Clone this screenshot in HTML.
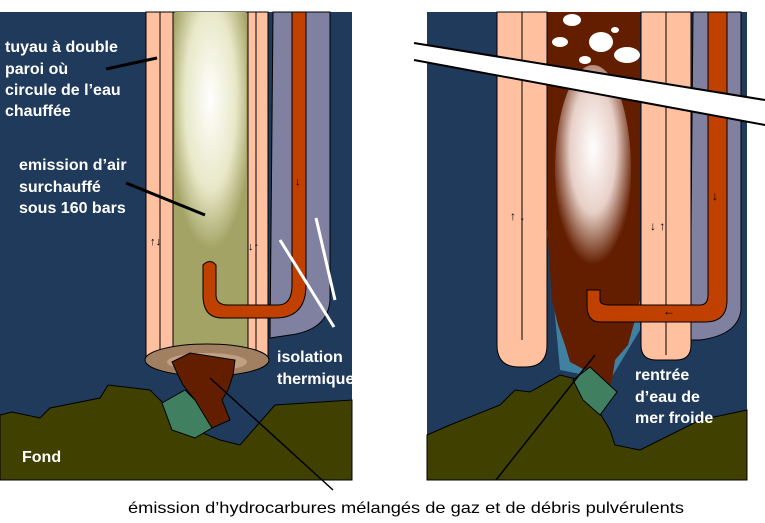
<!DOCTYPE html>
<html><head><meta charset="utf-8"><style>
html,body{margin:0;padding:0;background:#fff;width:765px;height:523px;overflow:hidden}
svg{display:block}
text{font-family:"Liberation Sans",Arial,sans-serif;font-weight:bold;fill:#fff;font-size:16px}
</style></head><body>
<svg width="765" height="523" viewBox="0 0 765 523" xmlns="http://www.w3.org/2000/svg">
<defs>
<radialGradient id="g1" cx="0.5" cy="0.35" r="0.6"><stop offset="0" stop-color="#fff"/><stop offset="0.6" stop-color="#e8e8c8"/><stop offset="1" stop-color="#a3a365"/></radialGradient>
<radialGradient id="g2" cx="0.5" cy="0.4" r="0.55"><stop offset="0" stop-color="#fff"/><stop offset="0.55" stop-color="#e8d0c8"/><stop offset="1" stop-color="#631e00"/></radialGradient>
</defs>
<!-- LEFT PANEL -->
<rect x="0" y="12" width="352" height="468" fill="#1f3a5b"/>
<path d="M273 12 H330 V300 Q328 330 290 335 L270 338 Z" fill="#8080a0" stroke="#000"/>
<rect x="146" y="12" width="122" height="350" fill="#ffc0a0" stroke="#000"/>
<line x1="160" y1="12" x2="160" y2="360" stroke="#000"/>
<line x1="256" y1="12" x2="256" y2="360" stroke="#000"/>
<rect x="173" y="12" width="75" height="345" fill="#a3a365" stroke="#000"/>
<rect x="175" y="12" width="71" height="250" fill="url(#g1)"/>
<path d="M292 12 H306 V285 Q306 318 275 318 H222 Q203 318 203 295 V265 Q210 258 216 265 V295 Q216 305 228 305 H278 Q292 305 292 285 Z" fill="#c04000" stroke="#000"/>
<ellipse cx="207" cy="360" rx="62" ry="16" fill="#a08060" stroke="#000"/>
<ellipse cx="207" cy="362" rx="40" ry="9" fill="#c0a080"/>
<path d="M0 415 L12 412 L40 418 L50 408 L100 398 L108 385 L150 390 L165 405 L185 420 L200 432 L220 440 L240 445 L275 405 L352 400 V480 H0 Z" fill="#404000" stroke="#000"/>
<path d="M162 403 L185 390 L205 410 L212 428 L195 438 L172 430 Z" fill="#408060" stroke="#000"/>
<path d="M172 362 L190 353 L235 360 L233 375 L228 390 L222 400 L230 420 L212 428 L195 400 L183 385 L178 375 Z" fill="#631e00" stroke="#000"/>
<text x="5" y="52">tuyau à double</text>
<text x="5" y="74">paroi où</text>
<text x="5" y="95">circule de l’eau</text>
<text x="5" y="116">chauffée</text>
<line x1="106" y1="69" x2="157" y2="58" stroke="#000" stroke-width="3"/>
<text x="19" y="170">emission d’air</text>
<text x="19" y="192">surchauffé</text>
<text x="19" y="213">sous 160 bars</text>
<line x1="126" y1="183" x2="205" y2="215" stroke="#000" stroke-width="3"/>
<line x1="280" y1="240" x2="334" y2="327" stroke="#fff" stroke-width="3"/>
<line x1="316" y1="218" x2="335" y2="300" stroke="#fff" stroke-width="3"/>
<text x="277" y="362">isolation</text>
<text x="277" y="384">thermique</text>
<text x="22" y="462">Fond</text>
<text x="150" y="245" style="fill:#000;font-size:11px">↑↓</text>
<text x="248" y="250" style="fill:#000;font-size:11px">↓↑</text>
<text x="295" y="185" style="fill:#000;font-size:11px">↓</text>
<!-- RIGHT PANEL -->
<rect x="427" y="12" width="320" height="468" fill="#1f3a5b"/>
<path d="M693 12 H741 V310 Q738 335 700 340 H690 Z" fill="#8080a0" stroke="#000"/>
<path d="M547 230 L560 370 L610 380 L640 330 L640 230 Z" fill="#4080a0"/>
<path d="M497 12 H547 V345 Q547 367 525 367 H519 Q497 367 497 345 Z" fill="#ffc0a0" stroke="#000"/>
<path d="M641 12 H691 V345 Q691 360 676 360 H656 Q641 360 641 345 Z" fill="#ffc0a0" stroke="#000"/>
<line x1="522" y1="12" x2="522" y2="340" stroke="#000"/>
<line x1="666" y1="12" x2="666" y2="355" stroke="#000"/>
<path d="M548 12 H640 V300 L635 320 L628 345 L615 360 L612 380 L605 395 L595 380 L585 370 L570 362 L565 345 L558 325 L552 300 L548 240 Z" fill="#631e00"/>
<ellipse cx="593" cy="170" rx="38" ry="105" fill="url(#g2)"/>
<g fill="#fff"><ellipse cx="572" cy="20" rx="9" ry="6"/><ellipse cx="601" cy="42" rx="12" ry="10"/><ellipse cx="627" cy="55" rx="13" ry="8"/><ellipse cx="560" cy="42" rx="8" ry="5"/><ellipse cx="585" cy="60" rx="6" ry="4"/><ellipse cx="615" cy="30" rx="4" ry="3"/></g>
<path d="M708 12 H727 V300 Q727 322 705 322 H600 Q587 322 587 305 V290 H600 V300 Q600 305 610 305 H700 Q708 305 708 295 Z" fill="#c04000" stroke="#000"/>
<path d="M414 43 L765 100 L765 125 L414 60 Z" fill="#fff"/>
<line x1="414" y1="43" x2="765" y2="100" stroke="#000" stroke-width="2"/>
<line x1="414" y1="60" x2="765" y2="125" stroke="#000" stroke-width="2"/>
<path d="M427 435 L450 425 L500 405 L515 390 L530 392 L560 375 L580 380 L610 430 L615 445 L640 450 L700 420 L747 410 V480 H427 Z" fill="#404000" stroke="#000"/>
<path d="M573 380 L590 367 L617 392 L600 415 L583 400 Z" fill="#408060" stroke="#000"/>
<line x1="595" y1="355" x2="496" y2="480" stroke="#000" stroke-width="1.5"/>
<text x="635" y="380">rentrée</text>
<text x="635" y="402">d’eau de</text>
<text x="635" y="423">mer froide</text>
<text x="510" y="220" style="fill:#000;font-size:12px">↑ ↓</text>
<text x="650" y="230" style="fill:#000;font-size:12px">↓ ↑</text>
<text x="712" y="200" style="fill:#000;font-size:12px">↓</text>
<text x="663" y="315" style="fill:#000;font-size:12px">←</text>
<line x1="210" y1="378" x2="333" y2="490" stroke="#000" stroke-width="1.5"/>
<text x="128" y="513" style="fill:#000;font-weight:normal;font-size:16px" textLength="556" lengthAdjust="spacingAndGlyphs">émission d’hydrocarbures mélangés de gaz et de débris pulvérulents</text>
</svg>
</body></html>
